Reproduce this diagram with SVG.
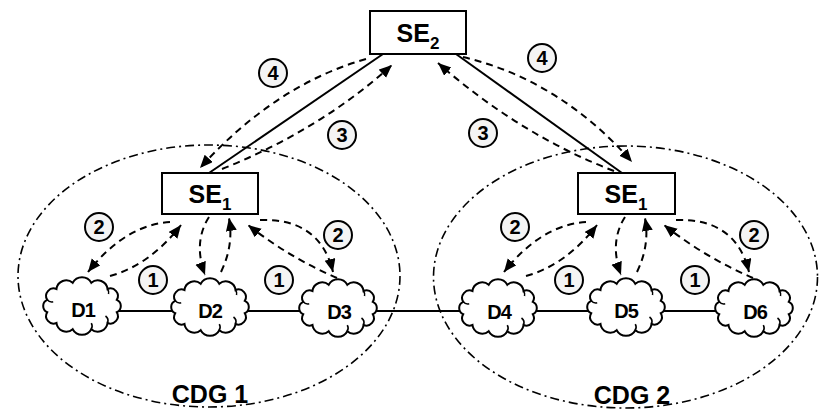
<svg xmlns="http://www.w3.org/2000/svg" xmlns:xlink="http://www.w3.org/1999/xlink" width="823" height="412" viewBox="0 0 823 412">
<style>
  .t{font-family:"Liberation Sans",Arial,sans-serif;font-weight:bold;fill:#000}
  .box{fill:#fff;stroke:#000;stroke-width:2}
  .grp{fill:none;stroke:#000;stroke-width:1.6;stroke-dasharray:9 4 2 4}
  .link{fill:none;stroke:#000;stroke-width:2}
  .msg{fill:none;stroke:#000;stroke-width:2;stroke-dasharray:7 5}
  .num{fill:#f4f4f4;stroke:#000;stroke-width:2}
  .cloud{fill:#fff;stroke:#000;stroke-width:2}
  .curl{fill:none;stroke:#000;stroke-width:1.6}
</style>
<defs>
  <marker id="ah" markerUnits="userSpaceOnUse" markerWidth="14" markerHeight="12" refX="13" refY="5.5" orient="auto">
    <path d="M0,0 L13,5.5 L0,11 Z" fill="#000"/>
  </marker>
  <g id="cl">
    <path class="cloud" d="M34.8,6.2 A7.5,7.5 0 0 1 25.5,17 A9.8,9.8 0 0 1 9.3,23.2 A10.5,10.5 0 0 1 -9.3,23.2 A9.8,9.8 0 0 1 -25.5,17 A7.5,7.5 0 0 1 -34.8,6.2 A6.8,6.8 0 0 1 -34.8,-6.2 A7.5,7.5 0 0 1 -25.5,-17 A9.8,9.8 0 0 1 -9.3,-23.2 A10.5,10.5 0 0 1 9.3,-23.2 A9.8,9.8 0 0 1 25.5,-17 A7.5,7.5 0 0 1 34.8,-6.2 A6.8,6.8 0 0 1 34.8,6.2 Z"/>
    <path class="curl" d="M25.5,17 a6,6 0 0 0 -2,-7"/>
    <path class="curl" d="M9.3,23.2 a6,6 0 0 0 0,-6"/>
    <path class="curl" d="M-34.8,-6.2 a6,6 0 0 0 6,2"/>
    <path class="curl" d="M25.5,-17 a6,6 0 0 1 1,5"/>
  </g>
</defs>
<rect width="823" height="412" fill="#fff"/>

<g id="groups">
  <ellipse id="cdg1-boundary" class="grp" cx="209" cy="276" rx="191" ry="131"/>
  <ellipse id="cdg2-boundary" class="grp" cx="625.5" cy="277" rx="192" ry="131"/>
</g>

<g id="connectors">
  <line class="link" x1="115" y1="311" x2="720" y2="311"/>
  <line class="link" x1="383" y1="54" x2="209" y2="173"/>
  <line class="link" x1="456" y1="54" x2="622" y2="173"/>
  <path class="msg" d="M366,59 Q275,85 200,168" marker-end="url(#ah)"/>
  <path class="msg" d="M222,169 Q320,130 392,65" marker-end="url(#ah)"/>
  <path class="msg" d="M614,171 Q520,135 438,63" marker-end="url(#ah)"/>
  <path class="msg" d="M463,57 Q560,80 632,162" marker-end="url(#ah)"/>
  <path class="msg" d="M170,222 Q125,225 88,272" marker-end="url(#ah)"/>
  <path class="msg" d="M110,276 Q150,265 181,225" marker-end="url(#ah)"/>
  <path class="msg" d="M209,217 Q193,242 205,275" marker-end="url(#ah)"/>
  <path class="msg" d="M221,272 Q234,245 229,218" marker-end="url(#ah)"/>
  <path class="msg" d="M260,220 Q320,218 333,272" marker-end="url(#ah)"/>
  <path class="msg" d="M337,278 Q290,258 248,225" marker-end="url(#ah)"/>
  <path class="msg" d="M586,222 Q541,225 504,272" marker-end="url(#ah)"/>
  <path class="msg" d="M526,276 Q566,265 597,225" marker-end="url(#ah)"/>
  <path class="msg" d="M625,217 Q609,242 621,275" marker-end="url(#ah)"/>
  <path class="msg" d="M637,272 Q650,245 645,218" marker-end="url(#ah)"/>
  <path class="msg" d="M676,220 Q736,218 749,272" marker-end="url(#ah)"/>
  <path class="msg" d="M753,278 Q706,258 664,225" marker-end="url(#ah)"/>
</g>

<g id="SE2">
  <rect class="box" x="370" y="11" width="96" height="43"/>
  <text class="t" x="418" y="42" font-size="25" text-anchor="middle">SE<tspan font-size="17" dy="7">2</tspan></text>
</g>
<g id="SE1-left">
  <rect class="box" x="162" y="173" width="96" height="41"/>
  <text class="t" x="210" y="203" font-size="25" text-anchor="middle">SE<tspan font-size="17" dy="7">1</tspan></text>
</g>
<g id="SE1-right">
  <rect class="box" x="578" y="173" width="97" height="41"/>
  <text class="t" x="626" y="203" font-size="25" text-anchor="middle">SE<tspan font-size="17" dy="7">1</tspan></text>
</g>

<g id="D1"><use xlink:href="#cl" href="#cl" x="82" y="306"/><text class="t" x="83" y="317" font-size="20" text-anchor="middle" letter-spacing="-1">D1</text></g>
<g id="D2"><use xlink:href="#cl" href="#cl" x="210" y="307"/><text class="t" x="210" y="318" font-size="20" text-anchor="middle" letter-spacing="-1">D2</text></g>
<g id="D3"><use xlink:href="#cl" href="#cl" x="338" y="308"/><text class="t" x="339" y="319" font-size="20" text-anchor="middle" letter-spacing="-1">D3</text></g>
<g id="D4"><use xlink:href="#cl" href="#cl" x="498" y="308"/><text class="t" x="499" y="319" font-size="20" text-anchor="middle" letter-spacing="-1">D4</text></g>
<g id="D5"><use xlink:href="#cl" href="#cl" x="626" y="307"/><text class="t" x="626" y="318" font-size="20" text-anchor="middle" letter-spacing="-1">D5</text></g>
<g id="D6"><use xlink:href="#cl" href="#cl" x="754" y="308"/><text class="t" x="755" y="319" font-size="20" text-anchor="middle" letter-spacing="-1">D6</text></g>

<g id="step-labels">
  <g id="s4a"><circle class="num" cx="273" cy="73" r="14"/><text class="t" x="273" y="80" font-size="20" text-anchor="middle">4</text></g>
  <g id="s3a"><circle class="num" cx="342" cy="135" r="14"/><text class="t" x="342" y="142" font-size="20" text-anchor="middle">3</text></g>
  <g id="s3b"><circle class="num" cx="483" cy="133" r="14"/><text class="t" x="483" y="140" font-size="20" text-anchor="middle">3</text></g>
  <g id="s4b"><circle class="num" cx="542" cy="58" r="14"/><text class="t" x="542" y="65" font-size="20" text-anchor="middle">4</text></g>
  <g id="s2a"><circle class="num" cx="99" cy="227" r="14"/><text class="t" x="99" y="234" font-size="20" text-anchor="middle">2</text></g>
  <g id="s1a"><circle class="num" cx="153" cy="280" r="14"/><text class="t" x="153" y="287" font-size="20" text-anchor="middle">1</text></g>
  <g id="s1b"><circle class="num" cx="279" cy="280" r="14"/><text class="t" x="279" y="287" font-size="20" text-anchor="middle">1</text></g>
  <g id="s2b"><circle class="num" cx="338" cy="235" r="14"/><text class="t" x="338" y="242" font-size="20" text-anchor="middle">2</text></g>
  <g id="s2c"><circle class="num" cx="515" cy="227" r="14"/><text class="t" x="515" y="234" font-size="20" text-anchor="middle">2</text></g>
  <g id="s1c"><circle class="num" cx="569" cy="280" r="14"/><text class="t" x="569" y="287" font-size="20" text-anchor="middle">1</text></g>
  <g id="s1d"><circle class="num" cx="695" cy="280" r="14"/><text class="t" x="695" y="287" font-size="20" text-anchor="middle">1</text></g>
  <g id="s2d"><circle class="num" cx="754" cy="235" r="14"/><text class="t" x="754" y="242" font-size="20" text-anchor="middle">2</text></g>
</g>

<g id="CDG1-label"><text class="t" x="210" y="403" font-size="25" text-anchor="middle">CDG 1</text></g>
<g id="CDG2-label"><text class="t" x="632" y="404" font-size="25" text-anchor="middle">CDG 2</text></g>
</svg>
